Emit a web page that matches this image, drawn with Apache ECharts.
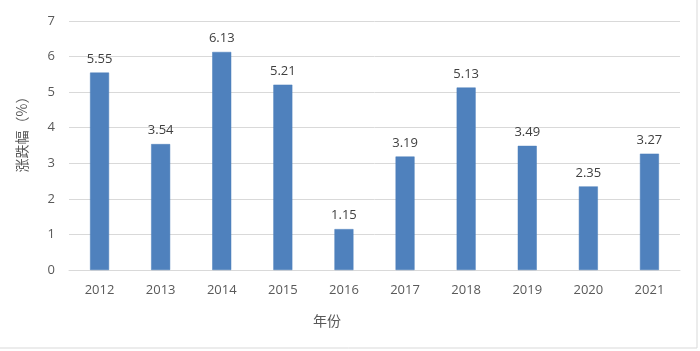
<!DOCTYPE html>
<html>
<head>
<meta charset="utf-8">
<script src="https://cdn.jsdelivr.net/npm/echarts@6/dist/echarts.min.js"></script>
<style>
html, body { margin: 0; padding: 0; background: #fff; }
#main { width: 700px; height: 351px; }
</style>
</head>
<body>
<div id="main"></div>
<script>
var years = ['2012', '2013', '2014', '2015', '2016', '2017', '2018', '2019', '2020', '2021'];
var changes = [5.55, 3.54, 6.13, 5.21, 1.15, 3.19, 5.13, 3.49, 2.35, 3.27];
var yTicks = [0, 7, 1];

var myChart = echarts.init(document.getElementById('main'));
var option = {
    animation: false,
    textStyle: { fontFamily: '"Noto Sans CJK SC", "Open Sans", sans-serif' },
    grid: {
        left: 69,
        right: 20,
        top: 21,
        bottom: 81
    },
    xAxis: {
        type: 'category',
        data: years,
        axisLine: { lineStyle: { color: '#D9D9D9', width: 1 } },
        axisTick: { show: false },
        axisLabel: { color: '#595959', fontSize: 13, margin: 14, fontFamily: '"Open Sans", sans-serif' }
    },
    yAxis: {
        type: 'value',
        min: yTicks[0],
        max: yTicks[1],
        interval: yTicks[2],
        axisLine: { show: false },
        axisTick: { show: false },
        axisLabel: { color: '#595959', fontSize: 13, margin: 14, fontFamily: '"Open Sans", sans-serif' },
        splitLine: { lineStyle: { color: '#D9D9D9', width: 1 } }
    },
    graphic: [
        {
            type: 'text',
            left: 313,
            top: 314,
            style: { text: '年份', fill: '#595959', fontSize: 14, fontFamily: '"Noto Sans CJK SC", sans-serif' }
        },
        {
            type: 'text',
            x: 22,
            y: 131,
            rotation: Math.PI / 2,
            style: {
                text: '涨跌幅（%）', fill: '#595959', fontSize: 14,
                align: 'center', verticalAlign: 'middle',
                fontFamily: '"Noto Sans CJK SC", sans-serif'
            }
        },
        {
            type: 'polyline',
            shape: { points: [[697, 0], [697, 348], [0, 348]] },
            style: { stroke: '#D9D9D9', lineWidth: 1, fill: null }
        }
    ],
    series: [{
        type: 'bar',
        data: changes,
        barWidth: 19,
        itemStyle: { color: '#4F81BD', borderColor: '#4A7EBB', borderWidth: 0.5 },
        label: {
            show: true,
            position: 'top',
            distance: 7,
            color: '#404040',
            fontSize: 13,
            fontFamily: '"Open Sans", sans-serif'
        }
    }]
};
myChart.setOption(option);
</script>
</body>
</html>
